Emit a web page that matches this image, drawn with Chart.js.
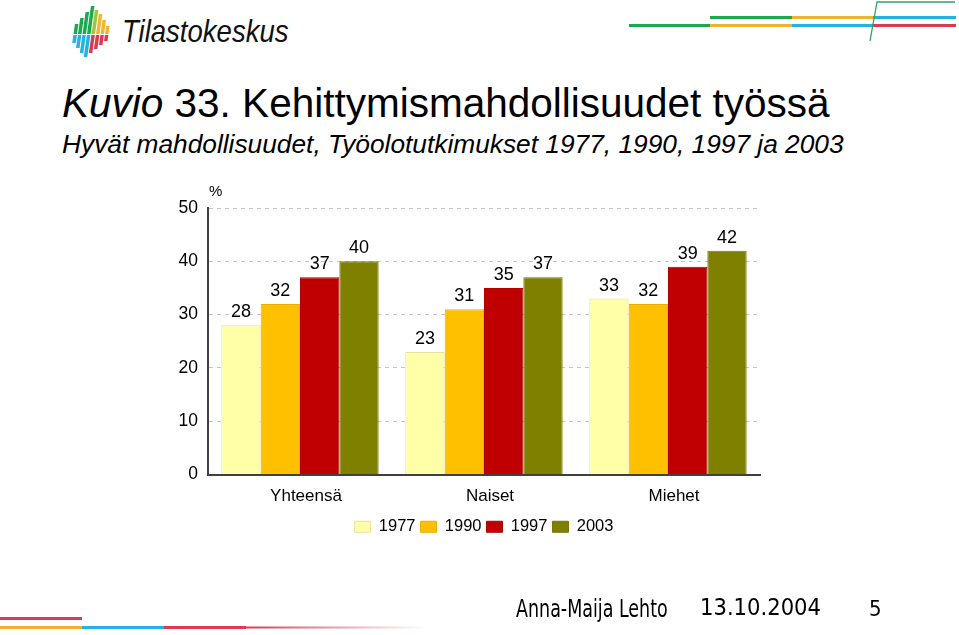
<!DOCTYPE html>
<html>
<head>
<meta charset="utf-8">
<script src="https://cdn.jsdelivr.net/npm/chart.js@4.4.1/dist/chart.umd.min.js"></script>
<style>
  html, body { margin: 0; padding: 0; background: #fff; }
  body { width: 959px; height: 635px; position: relative; overflow: hidden; font-family: "Liberation Sans", Arial, sans-serif; }
  #chart { position: absolute; left: 0; top: 0; }
  .abs { position: absolute; white-space: nowrap; }
  .line { position: absolute; height: 3px; }
</style>
</head>
<body>

<!-- logo -->
<svg class="abs" style="left:70px;top:2px" width="50" height="56" viewBox="0 0 50 56">
  <g transform="skewX(-8)">
    <rect x="8"  y="22" width="3.5" height="10" fill="#1ca84c"/>
    <rect x="12.5" y="16" width="3.5" height="16" fill="#1ca84c"/>
    <rect x="17" y="10" width="3.5" height="22" fill="#1ca84c"/>
    <rect x="21.5" y="4" width="3.5" height="28" fill="#1ca84c"/>
    <rect x="26" y="8" width="3.5" height="24" fill="#9cc63c"/>
    <rect x="30.5" y="12" width="3.5" height="20" fill="#f2b632"/>
    <rect x="35" y="18" width="3.5" height="14" fill="#f2b632"/>
    <rect x="39.5" y="24" width="3.5" height="8" fill="#f2b632"/>
    <rect x="8"  y="33" width="3.5" height="8" fill="#22b2e4"/>
    <rect x="12.5" y="33" width="3.5" height="13" fill="#22b2e4"/>
    <rect x="17" y="33" width="3.5" height="18" fill="#22b2e4"/>
    <rect x="21.5" y="33" width="3.5" height="22" fill="#22b2e4"/>
    <rect x="26" y="33" width="3.5" height="18" fill="#dc3a52"/>
    <rect x="30.5" y="33" width="3.5" height="14" fill="#dc3a52"/>
    <rect x="35" y="33" width="3.5" height="10" fill="#dc3a52"/>
    <rect x="39.5" y="33" width="3.5" height="6" fill="#dc3a52"/>
  </g>
</svg>
<div class="abs" style="left:122px;top:13px;font:italic 32px 'Liberation Sans';transform:scaleX(0.86);transform-origin:0 0;color:#111">Tilastokeskus</div>

<!-- top right stripes -->
<div class="line" style="left:710px;top:16px;width:82px;background:#1ca84c"></div>
<div class="line" style="left:792px;top:16px;width:81px;background:#f0b232"></div>
<div class="line" style="left:873px;top:16px;width:83px;background:#22b2e4"></div>
<div class="line" style="left:629px;top:24px;width:81px;background:#1ca84c"></div>
<div class="line" style="left:710px;top:24px;width:82px;background:#f0b232"></div>
<div class="line" style="left:792px;top:24px;width:81px;background:#22b2e4"></div>
<div class="line" style="left:873px;top:24px;width:83px;background:#dc3a52"></div>
<svg class="abs" style="left:0;top:0" width="959" height="50">
  <defs>
    <linearGradient id="fadeG" x1="0" x2="1" y1="0" y2="0">
      <stop offset="0" stop-color="#2aa866" stop-opacity="0"/>
      <stop offset="0.35" stop-color="#2aa866" stop-opacity="0.9"/>
      <stop offset="1" stop-color="#2aa866"/>
    </linearGradient>
  </defs>
  <line x1="662" y1="41" x2="870" y2="41" stroke="url(#fadeG)" stroke-width="1.3"/>
  <polyline points="870,41 877,2 955,2" fill="none" stroke="#2aa866" stroke-width="1.3"/>
</svg>

<!-- titles -->
<div class="abs" style="left:62px;top:80px;font-size:40.5px;color:#000"><i>Kuvio</i> 33. Kehittymismahdollisuudet työssä</div>
<div class="abs" style="left:62px;top:129px;font-size:26.3px;font-style:italic;color:#000">Hyvät mahdollisuudet, Työolotutkimukset 1977, 1990, 1997 ja 2003</div>

<canvas id="chart" width="959" height="635"></canvas>

<!-- footer -->
<svg class="abs" style="left:0;top:612px" width="430" height="20">
  <defs>
    <linearGradient id="fadeR" x1="0" x2="1" y1="0" y2="0">
      <stop offset="0" stop-color="#dc3a52"/>
      <stop offset="1" stop-color="#dc3a52" stop-opacity="0"/>
    </linearGradient>
  </defs>
  <rect x="0" y="5" width="82" height="3" fill="#dc3a52"/>
  <rect x="0" y="14" width="82" height="3" fill="#f0b232"/>
  <rect x="82" y="14" width="82" height="3" fill="#22b2e4"/>
  <rect x="164" y="14" width="82" height="3" fill="#dc3a52"/>
  <rect x="246" y="14.5" width="180" height="2" fill="url(#fadeR)"/>
</svg>
<div class="abs" style="left:516px;top:595px;font:24px 'DejaVu Sans Condensed','DejaVu Sans';transform:scaleX(0.81);transform-origin:0 0;color:#000">Anna-Maija Lehto</div>
<div class="abs" style="left:700px;top:593px;font:23.5px 'DejaVu Sans Condensed','DejaVu Sans';color:#000">13.10.2004</div>
<div class="abs" style="left:869px;top:596px;font:22px 'DejaVu Sans Condensed','DejaVu Sans';color:#000">5</div>

<script>
const categories = ['Yhteensä', 'Naiset', 'Miehet'];
const years = ['1977', '1990', '1997', '2003'];
const v1977 = [28, 23, 33];
const v1990 = [32, 31, 32];
const v1997 = [37, 35, 39];
const v2003 = [40, 37, 42];
const yTicks = [0, 10, 20, 30, 40, 50];

const fills = ['#ffffa8', '#ffc000', '#c00000', '#808000'];
const edges = ['#e2e2a0', '#e8b000', '#b00000', '#767600'];

// numbers above the bars + the "%" unit
const barLabels = {
  id: 'barLabels',
  afterDatasetsDraw(chart) {
    const ctx = chart.ctx;
    ctx.save();
    ctx.fillStyle = '#000';
    ctx.font = '18px "Liberation Sans", Arial';
    ctx.textAlign = 'center';
    ctx.textBaseline = 'bottom';
    chart.data.datasets.forEach((ds, i) => {
      chart.getDatasetMeta(i).data.forEach((bar, j) => {
        ctx.fillText(ds.data[j], bar.x, bar.y - 4);
      });
    });
    ctx.font = '15px "Liberation Sans", Arial';
    ctx.textAlign = 'left';
    ctx.fillText('%', chart.chartArea.left + 1, chart.chartArea.top - 9);
    ctx.restore();
  }
};

const seriesVals = [v1977, v1990, v1997, v2003];

new Chart(document.getElementById('chart'), {
  type: 'bar',
  data: {
    labels: categories,
    datasets: years.map((y, i) => ({
      label: y,
      data: seriesVals[i],
      backgroundColor: fills[i],
      borderColor: edges[i],
      borderWidth: 1,
      categoryPercentage: 0.855,
      barPercentage: 1.0
    }))
  },
  options: {
    responsive: false,
    animation: false,
    layout: { padding: { left: 163, right: 199, top: 208, bottom: 90 } },
    plugins: {
      legend: {
        position: 'bottom',
        fullSize: false,
        labels: {
          boxWidth: 16,
          boxHeight: 11,
          padding: 5,
          color: '#000',
          font: { family: '"Liberation Sans", Arial', size: 16.5 }
        }
      },
      tooltip: { enabled: false }
    },
    scales: {
      x: {
        grid: { display: false, drawTicks: false },
        border: { display: true, color: '#404040', width: 2 },
        ticks: { color: '#000', padding: 12, labelOffset: 6, font: { family: '"Liberation Sans", Arial', size: 17 } },
        afterFit: (s) => { s.height = 39; }
      },
      y: {
        min: 0,
        max: 50,
        afterBuildTicks: (s) => { s.ticks = yTicks.map(v => ({ value: v })); },
        grid: { color: '#c4c4c4', lineWidth: 1, drawTicks: false },
        border: { display: true, color: '#404040', width: 2, dash: [4, 4] },
        ticks: { color: '#000', padding: 10, font: { family: '"Liberation Sans", Arial', size: 17.5 } },
        afterFit: (s) => { s.width = 45; }
      }
    }
  },
  plugins: [barLabels]
});
</script>
</body>
</html>
